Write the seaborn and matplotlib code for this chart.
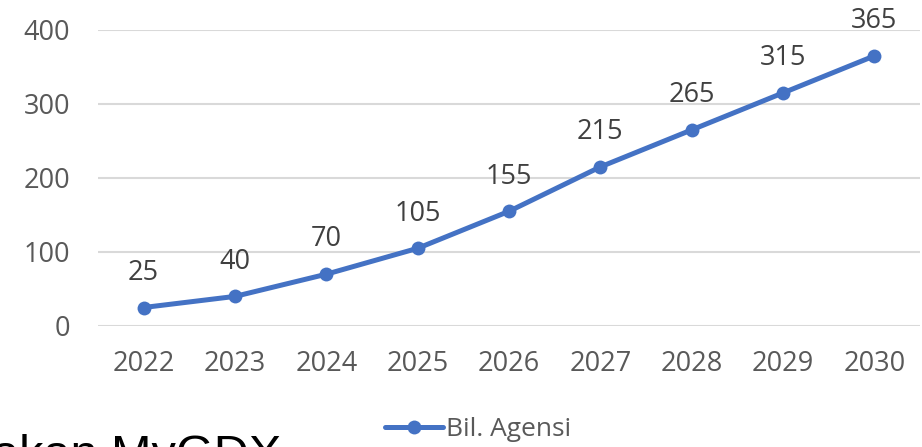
import numpy as np
import pandas as pd
import matplotlib.pyplot as plt
import seaborn as sns

# data
years = ['2022', '2023', '2024', '2025', '2026', '2027', '2028', '2029', '2030']
agensi = [25, 40, 70, 105, 155, 215, 265, 315, 365]
series_name = 'Bil. Agensi'

df = pd.DataFrame({'tahun': years, 'nilai': agensi})
df['pos'] = np.arange(len(years))

sns.set_style('white')
plt.rcParams['font.family'] = ['Open Sans', 'DejaVu Sans']

fig = plt.figure(figsize=(9.22, 4.47), dpi=100)
ax = fig.add_axes([98 / 922, 1 - 326 / 447, 822 / 922, 296 / 447])

blue = '#4472C4'
sns.lineplot(data=df, x='pos', y='nilai', ax=ax, color=blue, linewidth=3.6,
             marker='o', markersize=10, markeredgewidth=0, label=series_name,
             clip_on=False, zorder=3)

for x, v in zip(df['pos'], df['nilai']):
    ax.annotate(str(v), (x, v), xytext=(0, 25), textcoords='offset points',
                ha='center', va='center', fontsize=19.5, color='#404040')

ax.set_xlim(-0.5, len(years) - 0.5)
ax.set_ylim(0, 400)
ax.set_yticks([0, 100, 200, 300, 400])
ax.set_xticks(df['pos'])
ax.set_xticklabels(years)
ax.set_xlabel('')
ax.set_ylabel('')
ax.grid(axis='y', color='#D9D9D9', linewidth=1.5)
ax.set_axisbelow(True)
for s in ax.spines.values():
    s.set_visible(False)
ax.tick_params(axis='both', length=0, labelsize=19.5, labelcolor='#595959')
ax.tick_params(axis='y', pad=20)
ax.tick_params(axis='x', pad=17)

ax.legend(loc='center', bbox_to_anchor=(478 / 922, 1 - 430 / 447),
          bbox_transform=fig.transFigure, frameon=False, fontsize=19,
          handlelength=2.2, handletextpad=0.1, labelcolor='#595959')

# teks slaid di belakang carta (terpotong)
fig.text(-8 / 922, -22 / 447, 'akan MyGDX', fontsize=35, color='black',
         family=['Liberation Sans', 'DejaVu Sans'], ha='left', va='baseline')

fig.savefig('out.png', dpi=100)
